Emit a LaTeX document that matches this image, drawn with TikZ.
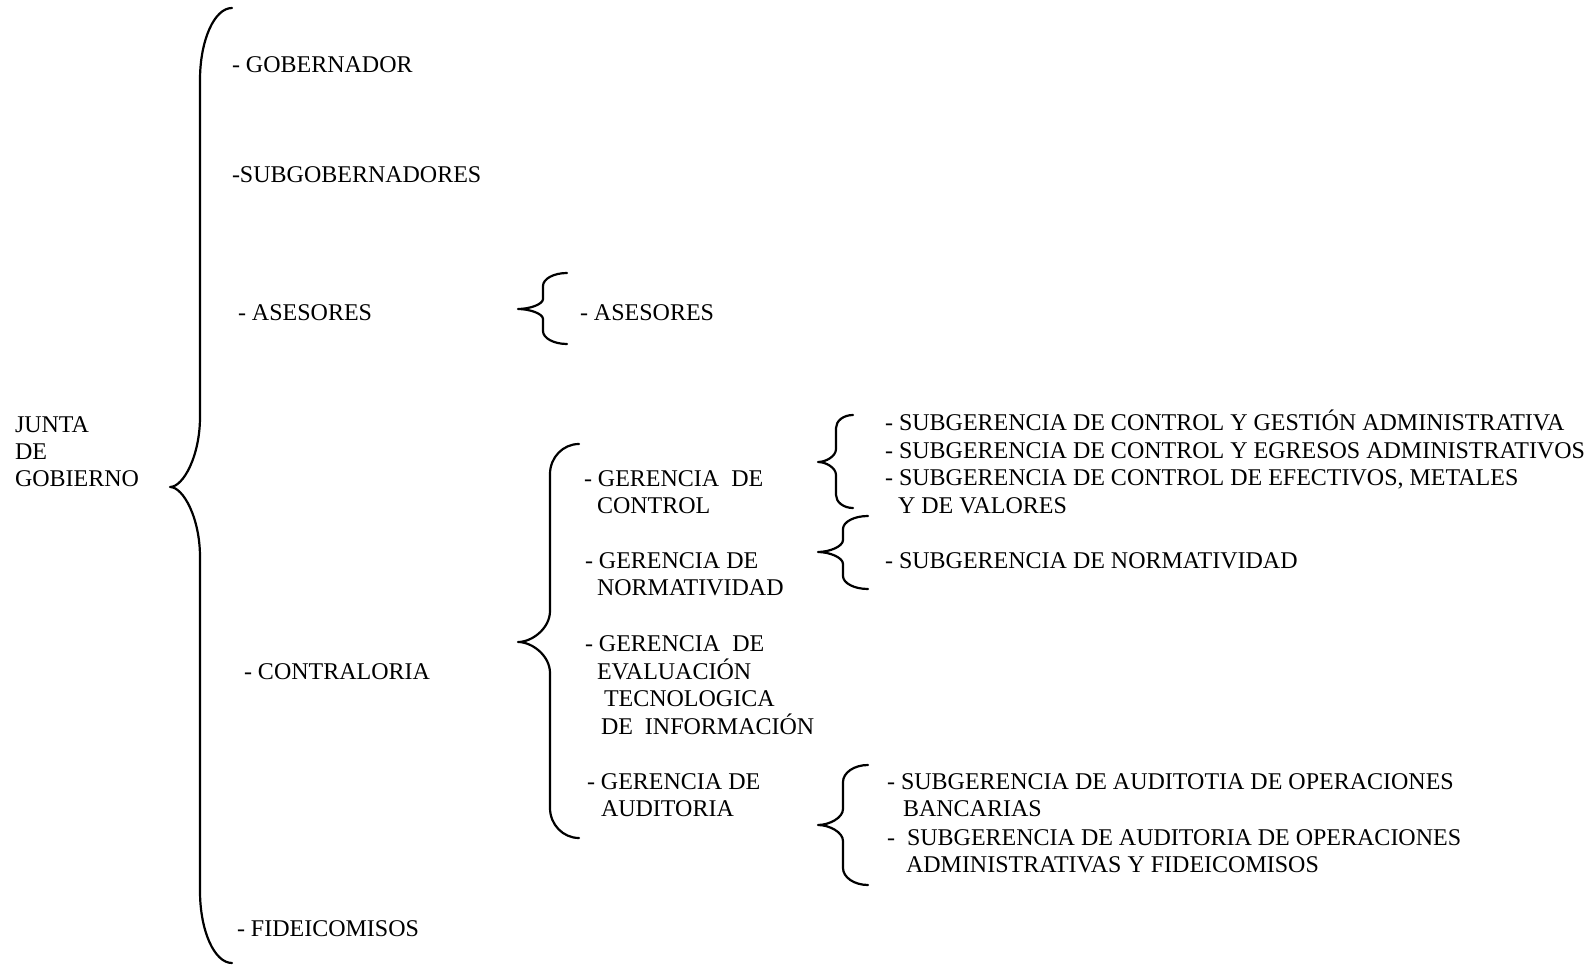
\documentclass[tikz,border=0pt]{standalone}
\usepackage{fontspec}
\setmainfont{Liberation Serif}
% #1 end x, #2 vertical x, #3 tip x, #4 top y, #5 tip y, #6 bottom y, #7 hook height, #8 cusp height
\newcommand{\mybrace}[8]{%
  \draw[bracestyle] (#1,#4) .. controls ({#2+0.448*(#1-#2)},#4) and (#2,{#4+0.448*#7}) .. (#2,{#4+#7})
    -- (#2,{#5-#8}) .. controls (#2,{#5-0.448*#8}) and ({#3+0.448*(#2-#3)},#5) .. (#3,#5)
    .. controls ({#3+0.448*(#2-#3)},#5) and (#2,{#5+0.448*#8}) .. (#2,{#5+#8})
    -- (#2,{#6-#7}) .. controls (#2,{#6-0.448*#7}) and ({#2+0.448*(#1-#2)},#6) .. (#1,#6);}
\tikzset{
  txt/.style={anchor=base west, inner sep=0pt, outer sep=0pt, font=\fontsize{12pt}{14pt}\selectfont},
  bracestyle/.style={line width=1.1pt, line join=round, line cap=round}
}
\begin{document}
\begin{tikzpicture}[x=0.5pt,y=-0.5pt]
\useasboundingbox (0,0) rectangle (1596,967);
% braces
\mybrace{232}{200}{170}{8}{487}{963}{72}{70}
\mybrace{567}{543}{518}{273}{309}{344}{13}{10}
\mybrace{579}{550}{518}{444}{642}{838}{30}{31}
\mybrace{853}{836}{818}{415}{462}{508}{13}{13}
\mybrace{868}{843}{818}{516}{552}{589}{13}{12}
\mybrace{868}{843}{818}{765}{825}{885}{17}{16}
% left
\node[txt] (junta1) at (15,433) {JUNTA};
\node[txt] (junta2) at (15,460) {DE};
\node[txt] (junta3) at (15,487) {GOBIERNO};
% level 1
\node[txt] (gob) at (232,73) {- GOBERNADOR};
\node[txt] (subgob) at (232,183) {-SUBGOBERNADORES};
\node[txt] (ases) at (238,321) {- ASESORES};
\node[txt] (contra) at (244,680) {- CONTRALORIA};
\node[txt] (fide) at (237,936) {- FIDEICOMISOS};
% level 2
\node[txt] (ases2) at (580,321) {- ASESORES};
\node[txt] (gc1) at (584,487) {- GERENCIA\ \ DE};
\node[txt] (gc2) at (597,514) {CONTROL};
\node[txt] (gn1) at (585,569) {- GERENCIA DE};
\node[txt] (gn2) at (597,596) {NORMATIVIDAD};
\node[txt] (ge1) at (585,652) {- GERENCIA\ \ DE};
\node[txt] (ge2) at (597,680) {EVALUACIÓN};
\node[txt] (ge3) at (604,706) {TECNOLOGICA};
\node[txt] (ge4) at (601,734) {DE\ \ INFORMACIÓN};
\node[txt] (ga1) at (587,789) {- GERENCIA DE};
\node[txt] (ga2) at (601,816) {AUDITORIA};
% level 3
\node[txt] (sc1) at (885,431) {- SUBGERENCIA DE CONTROL Y GESTIÓN ADMINISTRATIVA};
\node[txt] (sc2) at (885,458.5) {- SUBGERENCIA DE CONTROL Y EGRESOS ADMINISTRATIVOS};
\node[txt] (sc3) at (885,486) {- SUBGERENCIA DE CONTROL DE EFECTIVOS, METALES};
\node[txt] (sc4) at (898,513.5) {Y DE VALORES};
\node[txt] (sn1) at (885,569) {- SUBGERENCIA DE NORMATIVIDAD};
\node[txt] (sa1) at (887,789) {- SUBGERENCIA DE AUDITOTIA DE OPERACIONES};
\node[txt] (sa2) at (903,816) {BANCARIAS};
\node[txt] (sa3) at (887,845) {-\ \ SUBGERENCIA DE AUDITORIA DE OPERACIONES};
\node[txt] (sa4) at (906,872) {ADMINISTRATIVAS Y FIDEICOMISOS};
\end{tikzpicture}
\end{document}
